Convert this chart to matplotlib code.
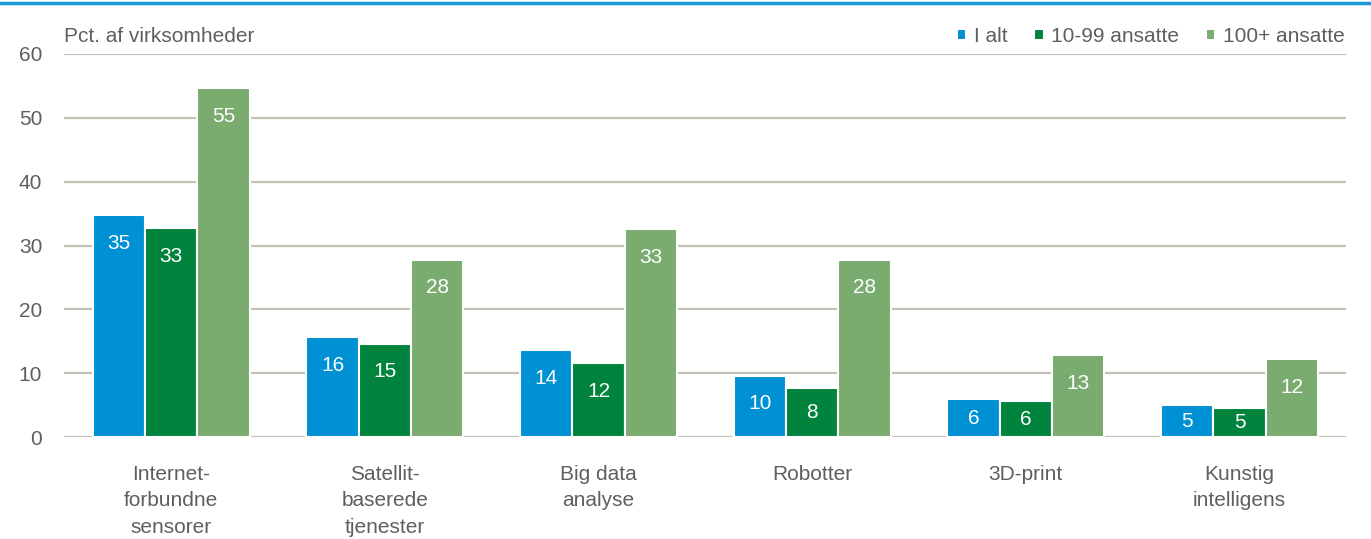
import numpy as np
import matplotlib.pyplot as plt

plt.rcParams['font.family'] = ['Liberation Sans Narrow', 'Liberation Sans', 'DejaVu Sans']

categories = ["Internet-\nforbundne\nsensorer", "Satellit-\nbaserede\ntjenester", "Big data\nanalyse",
              "Robotter", "3D-print", "Kunstig\nintelligens"]
i_alt = [34.7, 15.6, 13.6, 9.6, 5.9, 5.0]
small = [32.7, 14.6, 11.6, 7.7, 5.6, 4.6]
large = [54.6, 27.8, 32.6, 27.8, 12.8, 12.2]
series_names = ["I alt", "10-99 ansatte", "100+ ansatte"]
colors = ["#0090d4", "#00843d", "#7aab6f"]
txt = "#5f5f5f"

fig = plt.figure(figsize=(13.71, 5.39), dpi=100)
ax = fig.add_axes([0.047, 0.189, 0.935, 0.711])

x = np.arange(len(categories))
w = 0.245
for j, (vals, c) in enumerate(zip([i_alt, small, large], colors)):
    bars = ax.bar(x + (j - 1) * w, vals, w, color=c, edgecolor="white", linewidth=1.5,
                  label=series_names[j], zorder=3)
    for b, v in zip(bars, vals):
        # label near top, but centred for short bars
        ax.text(b.get_x() + b.get_width() / 2, max(v - 4.4, v / 2), f"{v:.0f}",
                ha="center", va="center", color="white", fontsize=15, zorder=4)

ax.set_ylim(0, 60)
ax.set_xlim(-0.5, 5.5)
ax.set_yticks(range(0, 61, 10))
ax.yaxis.grid(True, color="#c4c0b6", linewidth=1.6, zorder=0)
ax.set_axisbelow(True)
for s in ax.spines.values():
    s.set_visible(False)
ax.tick_params(axis="both", length=0, labelsize=15, labelcolor=txt)
ax.tick_params(axis="y", pad=16)
ax.tick_params(axis="x", pad=20)
ax.set_xticks(x)
ax.set_xticklabels(categories, linespacing=1.5)

ax.text(0.0, 1.02, "Pct. af virksomheder", transform=ax.transAxes, fontsize=15,
        color=txt, ha="left", va="bottom")

leg = ax.legend(loc="lower right", bbox_to_anchor=(1.005, 1.0), ncol=3, frameon=False,
                fontsize=15, handlelength=0.45, handleheight=0.45, handletextpad=0.35,
                columnspacing=1.3, borderaxespad=0)
for t in leg.get_texts():
    t.set_color(txt)

fig.add_artist(plt.Line2D([0, 1], [0.994, 0.994], color="#1a9ad6", linewidth=2.5,
                          transform=fig.transFigure))

fig.savefig("out.png", dpi=100)
